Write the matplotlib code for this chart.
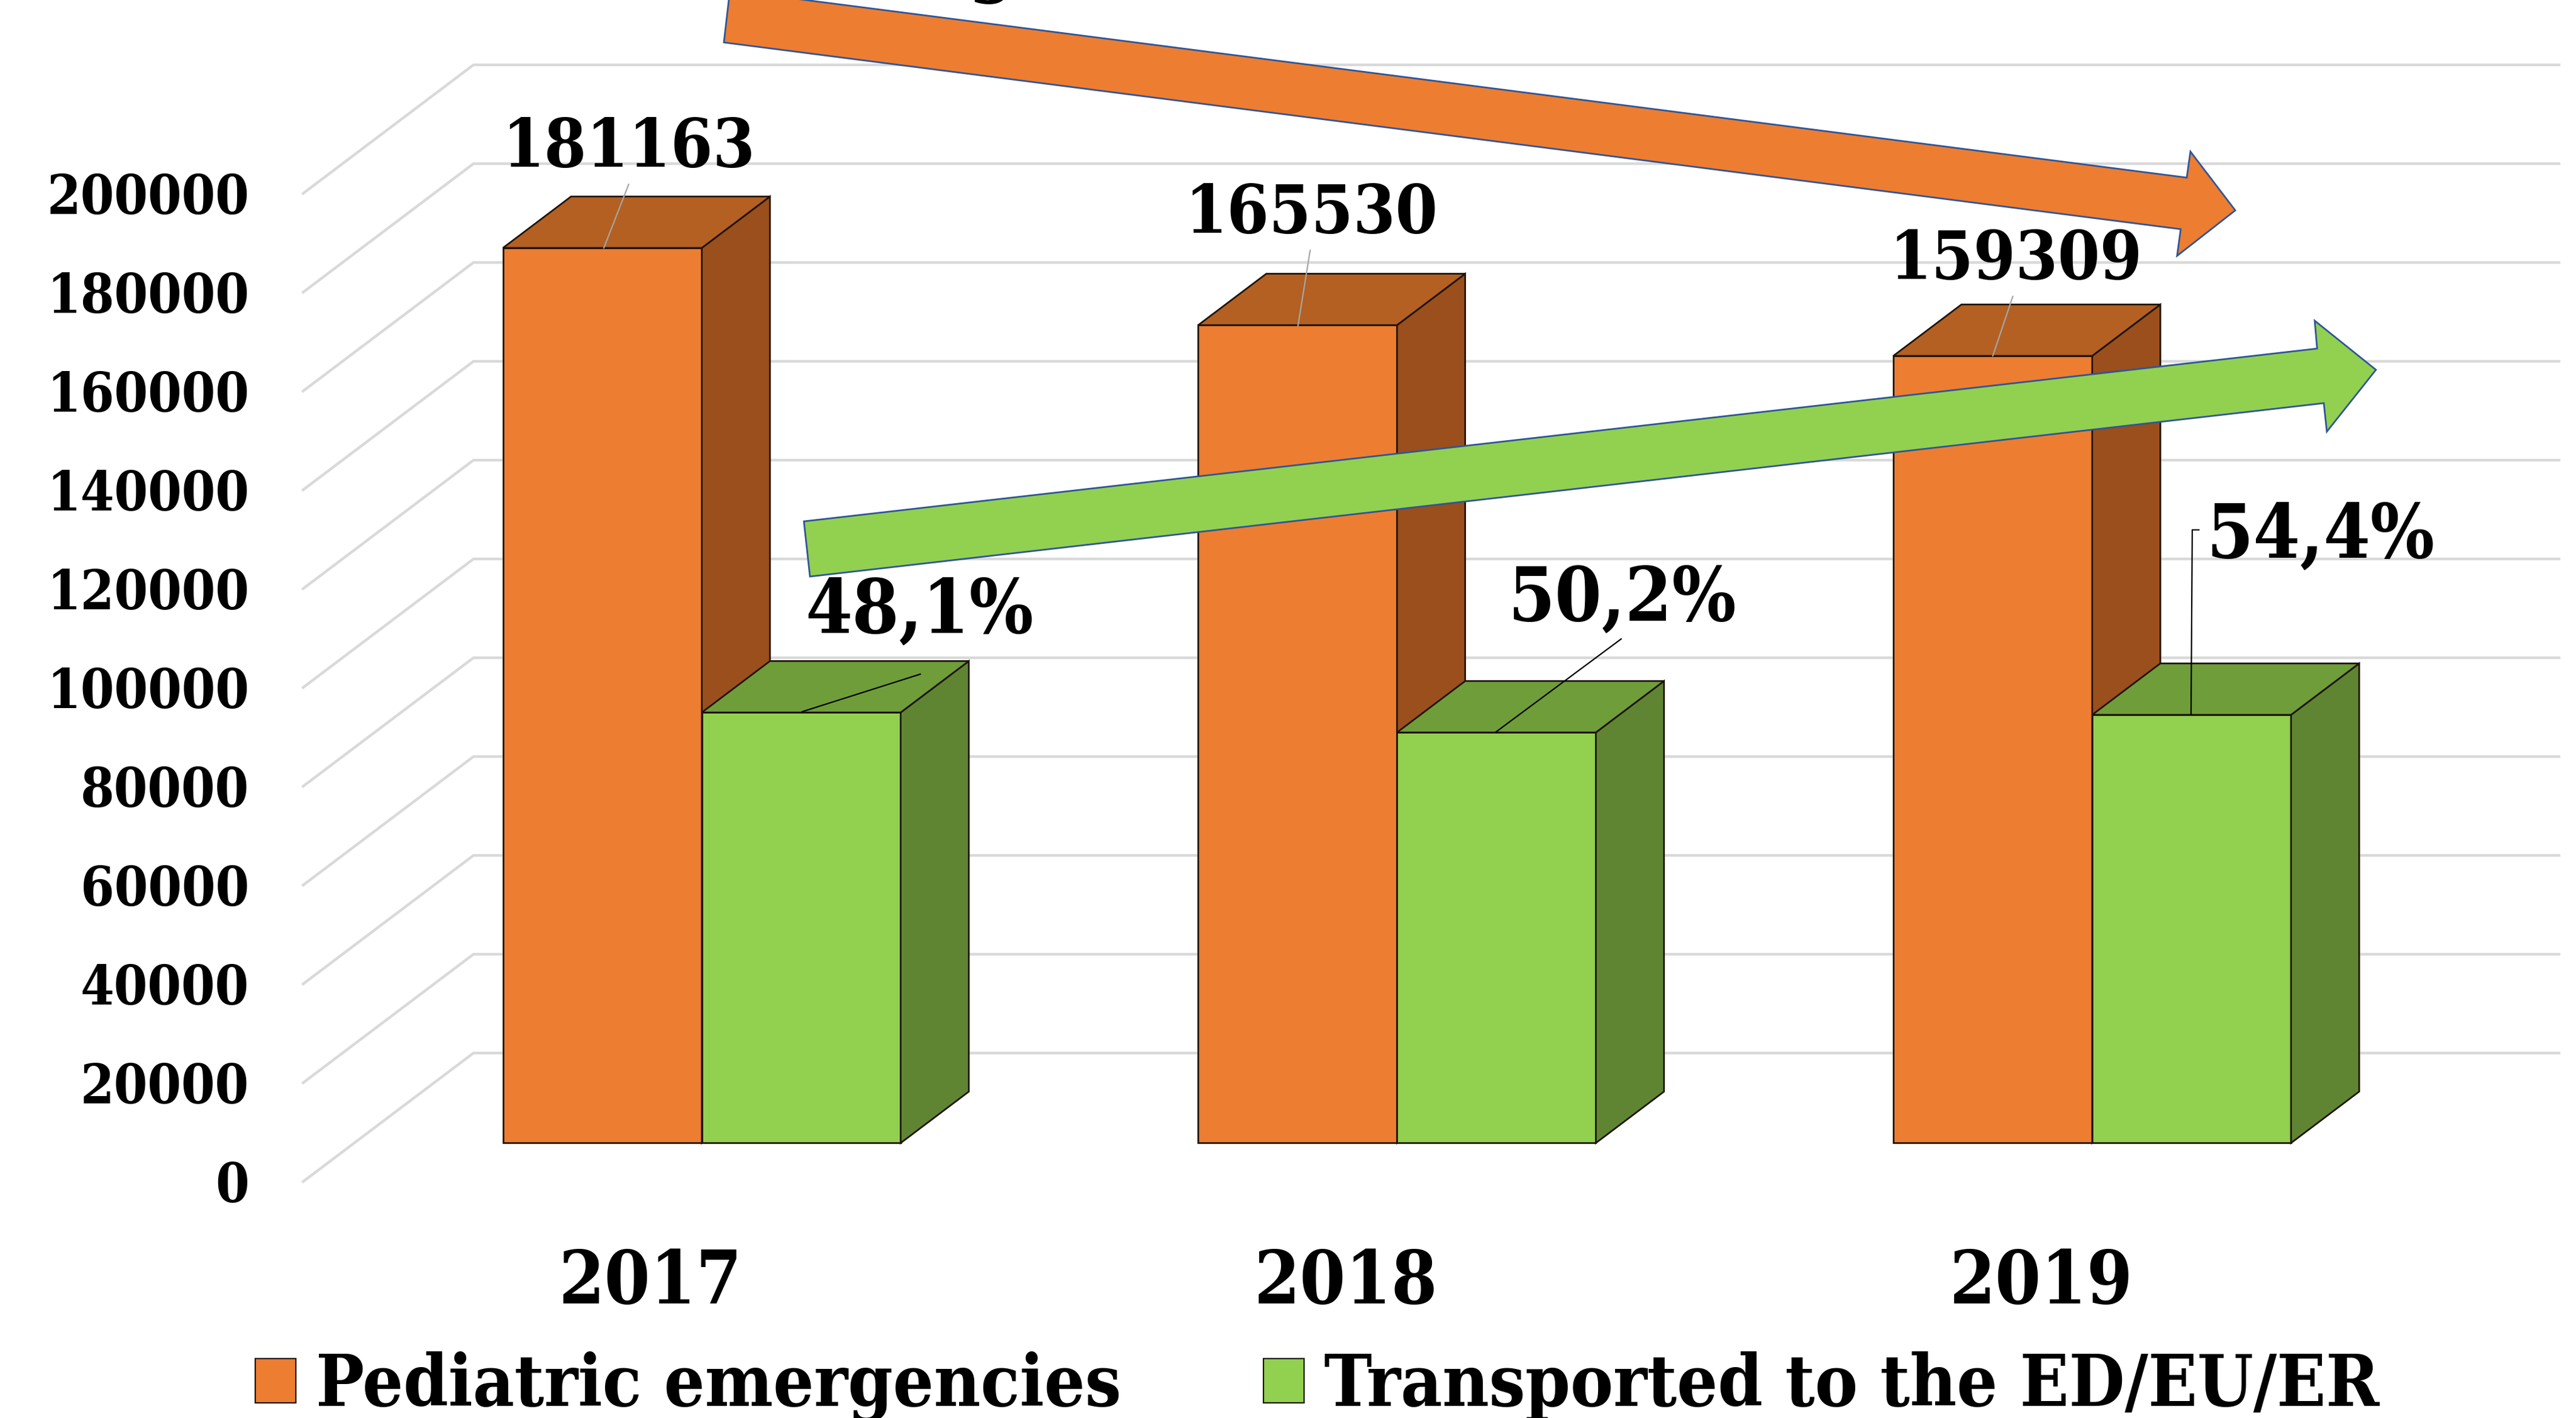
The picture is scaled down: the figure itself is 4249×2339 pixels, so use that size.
import matplotlib
matplotlib.use('Agg')
import matplotlib.pyplot as plt
from matplotlib.patches import Patch, Polygon
from matplotlib.transforms import Affine2D

plt.rcParams['font.family'] = ['DejaVu Serif']
plt.rcParams['font.weight'] = 'bold'
plt.rcParams['font.stretch'] = 'condensed'

# Dados
years = ['2017', '2018', '2019']
emergencies = [181163, 165530, 159309]
transported = [87140, 83096, 86664]
percent_labels = ['48,1%', '50,2%', '54,4%']
y_ticks = [0, 20000, 40000, 60000, 80000, 100000, 120000, 140000, 160000, 180000, 200000]
series_names = ['Pediatric emergencies', 'Transported to the ED/EU/ER']

W, H = 4249, 2339
ORANGE, ORANGE_TOP, ORANGE_SIDE = '#ED7D31', '#B36022', '#9A4F1D'
GREEN, GREEN_TOP, GREEN_SIDE = '#92D050', '#6F9D3A', '#5F8533'
EDGE = '#1f140c'
GRID = '#D9D9D9'
ARROW_EDGE = '#2F5597'

fig = plt.figure(figsize=(W / 100, H / 100), dpi=100, facecolor='white')
# eixos no plano frontal do grafico 3D (pixels: x 500-3940, y 319-1949)
ax = fig.add_axes([500 / W, (H - 1949) / H, 3440 / W, 1630 / H])
ax.set_xlim(-0.5, 2.5)
ax.set_ylim(0, 200000)
ax.patch.set_alpha(0)
for s in ax.spines.values():
    s.set_visible(False)

# coordenadas em pixels da imagem (setas e chamadas)
px = Affine2D().scale(1 / W, -1 / H).translate(0, 1) + fig.transFigure

wall_dx = 281 / (3440 / 3)
wall_dy = 212 / (1630 / 200000)
bar_width = 328 / (3440 / 3)
# as barras ficam entre 30% e 70% da profundidade
shift_x, shift_y = 0.3 * wall_dx, 0.3 * wall_dy
depth_x, depth_y = 0.4 * wall_dx, 0.4 * wall_dy

# Grade
for v in y_ticks:
    ax.plot([-0.5, -0.5 + wall_dx, 2.5 + wall_dx], [v, v + wall_dy, v + wall_dy],
            color=GRID, lw=3.2, clip_on=False, zorder=1, solid_joinstyle='miter')


def draw_bar(x0, value, face, top, side):
    ax.bar(x0, value, bar_width, bottom=shift_y, align='edge', color=face,
           edgecolor=EDGE, linewidth=2, clip_on=False, zorder=3)
    y0, y1 = shift_y, shift_y + value
    x1 = x0 + bar_width
    ax.add_patch(Polygon([(x1, y0), (x1 + depth_x, y0 + depth_y), (x1 + depth_x, y1 + depth_y), (x1, y1)],
                         facecolor=side, edgecolor=EDGE, lw=2, clip_on=False, zorder=3))
    ax.add_patch(Polygon([(x0, y1), (x0 + depth_x, y1 + depth_y), (x1 + depth_x, y1 + depth_y), (x1, y1)],
                         facecolor=top, edgecolor=EDGE, lw=2, clip_on=False, zorder=3))


for i in range(len(years)):
    center = i + shift_x
    draw_bar(center - bar_width, emergencies[i], ORANGE, ORANGE_TOP, ORANGE_SIDE)
    draw_bar(center, transported[i], GREEN, GREEN_TOP, GREEN_SIDE)

# Eixos
ax.set_xticks(range(len(years)))
ax.set_xticklabels(years, fontsize=87)
ax.set_yticks(y_ticks)
ax.set_yticklabels([str(v) for v in y_ticks], fontsize=64)
ax.tick_params(axis='x', length=0, pad=78)
ax.tick_params(axis='y', length=0, pad=64)

# Chamadas dos rotulos
gray_leaders = [[(996, 409), (1037, 304)], [(2141, 537), (2161, 413)], [(3287, 587), (3320, 489)]]
black_leaders = [[(1323, 1174), (1518, 1112)], [(2468, 1207), (2674, 1054)],
                 [(3614, 1178), (3616, 874), (3627, 874)]]
for line in gray_leaders:
    ax.plot(*zip(*line), color='#A6A6A6', lw=1.6, transform=px, clip_on=False, zorder=4)
for line in black_leaders:
    ax.plot(*zip(*line), color='black', lw=1.6, transform=px, clip_on=False, zorder=4)

# Rotulos de dados
value_pos = [(1037, 275), (2163, 384), (3325, 460)]
percent_pos = [(1517, 1043), (2676, 1023), (3828, 919)]
for i in range(len(years)):
    ax.text(*value_pos[i], str(emergencies[i]), transform=px, fontsize=80,
            ha='center', va='baseline', zorder=5)
    ax.text(*percent_pos[i], percent_labels[i], transform=px, fontsize=89,
            ha='center', va='baseline', zorder=5)

# Resto do titulo cortado no topo da imagem
ax.text(1636, -20, 'g', transform=px, fontsize=87, ha='center', va='baseline', clip_on=False, zorder=5)

# Setas de tendencia
orange_arrow = [(1204, -16), (3607, 293), (3613, 250), (3687, 347), (3591, 422), (3597, 378), (1194, 70)]
green_arrow = [(1326, 860), (3822, 575), (3818, 529), (3919, 610), (3838, 712), (3833, 665), (1336, 951)]
ax.add_patch(Polygon(orange_arrow, closed=True, facecolor=ORANGE, edgecolor=ARROW_EDGE, lw=2,
                     transform=px, clip_on=False, zorder=6))
ax.add_patch(Polygon(green_arrow, closed=True, facecolor=GREEN, edgecolor=ARROW_EDGE, lw=2,
                     transform=px, clip_on=False, zorder=6))

# Legenda
handles = [Patch(facecolor=ORANGE, edgecolor=EDGE, lw=1.6), Patch(facecolor=GREEN, edgecolor=EDGE, lw=1.6)]
fig.legend(handles, series_names, loc='center left', bbox_to_anchor=(421 / W, 1 - 2287 / H),
           ncols=2, frameon=False, fontsize=85, handlelength=0.57, handleheight=0.57,
           handletextpad=0.28, columnspacing=1.98, borderpad=0, borderaxespad=0)

fig.savefig('out.png', dpi=100)
